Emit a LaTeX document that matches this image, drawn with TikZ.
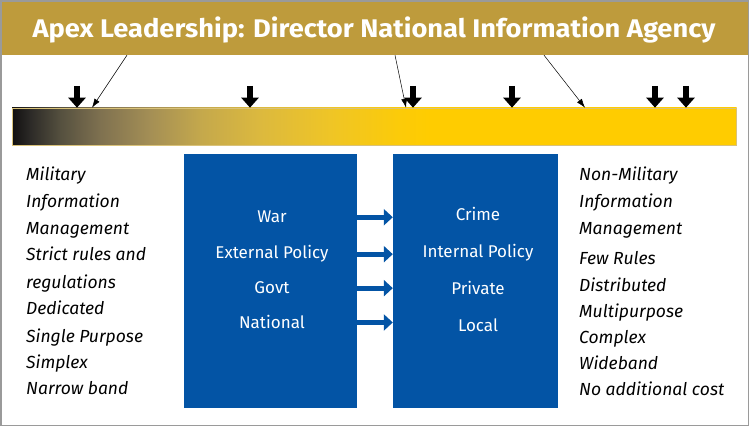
\documentclass[tikz,border=0pt]{standalone}
\usepackage{fontspec}
\setmainfont{Fira Sans}
\newfontfamily\headfont{Fira Sans}[FakeStretch=1.07]
\usetikzlibrary{arrows.meta, positioning}
\definecolor{apexgold}{HTML}{BE9B3C}
\definecolor{agencyblue}{HTML}{0354A5}
\definecolor{framegray}{HTML}{9A9A9A}
\definecolor{barline}{HTML}{D9C27A}
\definecolor{gradA}{HTML}{111010}
\definecolor{gradB}{HTML}{2C2A27}
\definecolor{gradC}{HTML}{55503F}
\definecolor{gradD}{HTML}{7F7150}
\definecolor{gradE}{HTML}{A48F55}
\definecolor{gradF}{HTML}{C4A84C}
\definecolor{gradG}{HTML}{DCB93E}
\definecolor{gradH}{HTML}{EFC526}
\definecolor{gradI}{HTML}{FCCB08}
\definecolor{gradJ}{HTML}{FFCC00}
\tikzset{
  titlebar/.style={fill=apexgold, minimum width=747pt, minimum height=53pt, inner sep=0pt},
  titletext/.style={text=white, inner sep=0pt, font=\headfont\fontsize{25.5}{28}\selectfont\bfseries},
  bluebox/.style={fill=agencyblue, inner sep=0pt},
  boxtext/.style={text=white, inner sep=0pt, anchor=base, font=\fontsize{17}{20}\selectfont},
  listtext/.style={anchor=base west, inner sep=0pt, font=\fontsize{17.5}{20}\selectfont\itshape},
  blockarrow/.style={line width=6.5pt, -{Triangle[width=17pt,length=10pt]}},
  pointer/.style={line width=0.5pt, -{Latex[length=9pt,width=6pt]}},
  bluearrow/.style={agencyblue, line width=5pt, -{Triangle[width=16pt,length=9pt]}}
}
\begin{document}
\begin{tikzpicture}[x=1pt, y=-1pt]
\useasboundingbox (0,0) rectangle (750,427);
\fill[white] (0,0) rectangle (750,427);
\node[titlebar] (title) at (374.5,28.5) {};
\node[titletext, anchor=base] (heading) at (374,37.3) {Apex Leadership: Director National Information Agency};
\foreach \a/\b/\ca/\cb in {12/30/gradA/gradB, 30/60/gradB/gradC, 60/100/gradC/gradD, 100/150/gradD/gradE, 150/200/gradE/gradF, 200/260/gradF/gradG, 260/330/gradG/gradH, 330/400/gradH/gradI, 400/430/gradI/gradJ, 430/736/gradJ/gradJ}
  \shade[left color=\ca, right color=\cb] (\a,108) rectangle (\b+0.6,145);
\node[draw=barline, line width=0.6pt, minimum width=724pt, minimum height=37pt, inner sep=0pt] (bar) at (374,126.5) {};
\foreach \x in {77,250,413,512,655,686} \draw[blockarrow] (\x,86) -- (\x,0 |- bar.north);
\draw[pointer] (127,0 |- title.south) -- (92,0 |- bar.north);
\draw[pointer] (395,0 |- title.south) -- (406,0 |- bar.north);
\draw[pointer] (544,0 |- title.south) -- (585,0 |- bar.north);
\node[bluebox, minimum width=173pt, minimum height=254pt] (lbox) at (270.5,281) {};
\node[bluebox, minimum width=165pt, minimum height=254pt] (rbox) at (475.5,281) {};
\node[boxtext] (war) at (272,223) {War};
\node[boxtext] (external) at (272,259) {External Policy};
\node[boxtext] (govt) at (272,294) {Govt};
\node[boxtext] (national) at (272,329) {National};
\node[boxtext] (crime) at (478,221) {Crime};
\node[boxtext] (internal) at (478,258) {Internal Policy};
\node[boxtext] (private) at (478,295) {Private};
\node[boxtext] (local) at (478,332) {Local};
\foreach \n in {war,external,govt,national} \draw[bluearrow] (lbox.east |- \n) -- (rbox.west |- \n);
\foreach \y/\t [count=\i] in {180.5/Military, 207.5/Information, 234.5/Management, 260.5/Strict rules and, 288.5/regulations, 314.5/Dedicated, 342.5/Single Purpose, 368.5/Simplex, 394.5/Narrow band}
  \node[listtext] (mil\i) at (26,\y) {\t};
\foreach \y/\t [count=\i] in {180.5/Non-Military, 207.5/Information, 234.5/Management, 264.5/Few Rules, 291.5/Distributed, 317.5/Multipurpose, 343.5/Complex, 369.5/Wideband, 395.5/No additional cost}
  \node[listtext] (civ\i) at (579,\y) {\t};
\draw[framegray, line width=1.5pt] (1,1) rectangle (748.5,425.5);
\end{tikzpicture}
\end{document}
